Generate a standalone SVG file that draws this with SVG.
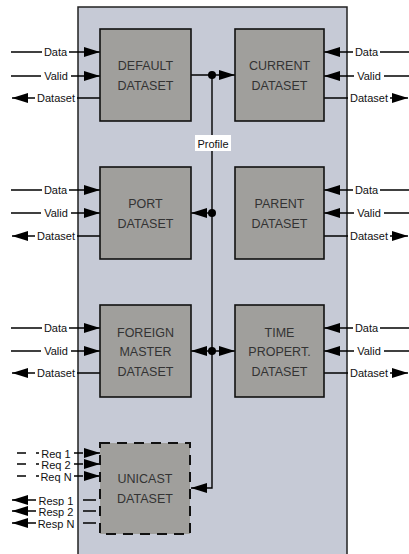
<svg xmlns="http://www.w3.org/2000/svg" width="409" height="554" viewBox="0 0 409 554">
  <defs>
    <marker id="ah" markerUnits="userSpaceOnUse" markerWidth="16" markerHeight="10" refX="16" refY="5" orient="auto">
      <path d="M0,0 L16,5 L0,10 z" fill="#000"/>
    </marker>
    <marker id="ahs" markerUnits="userSpaceOnUse" markerWidth="16" markerHeight="10" refX="16" refY="5" orient="auto-start-reverse">
      <path d="M0,0 L16,5 L0,10 z" fill="#000"/>
    </marker>
  </defs>
  <style>
    .panel { fill: #c6cad6; stroke: #222; stroke-width: 1.5; }
    .box { fill: #a09f9c; stroke: #111; stroke-width: 1.6; }
    .dashed { stroke-dasharray: 10 7; stroke-width: 2; }
    .name { font-family: "Liberation Sans", Arial, sans-serif; font-size: 12.5px; fill: #333; text-anchor: middle; }
    .sig { font-family: "Liberation Sans", Arial, sans-serif; font-size: 11px; fill: #111; text-anchor: middle; }
    .bg { fill: #fff; }
    .wire { stroke: #000; stroke-width: 1.4; fill: none; }
    .in { marker-end: url(#ah); }
    .dash { stroke-dasharray: 9 10; }
    .rdash { stroke-dasharray: 13 7; }
    .dot { fill: #000; }
  </style>

  <!-- enclosing block -->
  <rect class="panel" x="78" y="7" width="269" height="560"/>

  <!-- connectors -->
  <g id="connectors">
    <!-- shared profile bus -->
    <path class="wire" d="M212,75 V488 H191" marker-end="url(#ah)"/>
    <line class="wire in" x1="191" y1="75" x2="235" y2="75"/>
    <line class="wire in" x1="212" y1="213" x2="191" y2="213"/>
    <line class="wire" x1="191" y1="351" x2="235" y2="351" marker-start="url(#ahs)" marker-end="url(#ahs)"/>
    <circle class="dot" cx="212" cy="75" r="4"/>
    <circle class="dot" cx="212" cy="213" r="4"/>
    <circle class="dot" cx="212" cy="351" r="4"/>
    <rect class="bg" x="195" y="135" width="36" height="16"/>
    <text class="sig" x="213" y="148">Profile</text>

    <!-- left-hand interfaces -->
    <line class="wire in" x1="11" y1="52" x2="100" y2="52"/>
    <line class="wire in" x1="11" y1="76" x2="100" y2="76"/>
    <line class="wire in" x1="100" y1="98" x2="12" y2="98"/>
    <line class="wire in" x1="11" y1="190" x2="100" y2="190"/>
    <line class="wire in" x1="11" y1="213" x2="100" y2="213"/>
    <line class="wire in" x1="100" y1="236" x2="12" y2="236"/>
    <line class="wire in" x1="11" y1="328" x2="100" y2="328"/>
    <line class="wire in" x1="11" y1="351" x2="100" y2="351"/>
    <line class="wire in" x1="100" y1="373" x2="12" y2="373"/>

    <!-- right-hand interfaces -->
    <line class="wire in" x1="409" y1="52" x2="324" y2="52"/>
    <line class="wire in" x1="409" y1="76" x2="324" y2="76"/>
    <line class="wire in" x1="324" y1="98" x2="408" y2="98"/>
    <line class="wire in" x1="409" y1="190" x2="324" y2="190"/>
    <line class="wire in" x1="409" y1="213" x2="324" y2="213"/>
    <line class="wire in" x1="324" y1="236" x2="408" y2="236"/>
    <line class="wire in" x1="409" y1="328" x2="324" y2="328"/>
    <line class="wire in" x1="409" y1="351" x2="324" y2="351"/>
    <line class="wire in" x1="324" y1="373" x2="408" y2="373"/>

    <!-- unicast request / response lines -->
    <line class="wire in dash" x1="17" y1="453" x2="100" y2="453"/>
    <line class="wire in dash" x1="17" y1="464" x2="100" y2="464"/>
    <line class="wire in dash" x1="17" y1="476" x2="100" y2="476"/>
    <line class="wire in rdash" x1="96" y1="500" x2="12" y2="500"/>
    <line class="wire in rdash" x1="96" y1="511" x2="12" y2="511"/>
    <line class="wire in rdash" x1="96" y1="523" x2="12" y2="523"/>

    <!-- signal labels, left -->
    <g>
      <rect class="bg" x="42" y="46" width="27" height="11"/><text class="sig" x="55.5" y="56">Data</text>
      <rect class="bg" x="41" y="70" width="30" height="11"/><text class="sig" x="56" y="80">Valid</text>
      <rect class="bg" x="35" y="92" width="42" height="11"/><text class="sig" x="56" y="102">Dataset</text>
      <rect class="bg" x="42" y="184" width="27" height="11"/><text class="sig" x="55.5" y="194">Data</text>
      <rect class="bg" x="41" y="207" width="30" height="11"/><text class="sig" x="56" y="217">Valid</text>
      <rect class="bg" x="35" y="230" width="42" height="11"/><text class="sig" x="56" y="240">Dataset</text>
      <rect class="bg" x="42" y="322" width="27" height="11"/><text class="sig" x="55.5" y="332">Data</text>
      <rect class="bg" x="41" y="345" width="30" height="11"/><text class="sig" x="56" y="355">Valid</text>
      <rect class="bg" x="35" y="367" width="42" height="11"/><text class="sig" x="56" y="377">Dataset</text>
    </g>
    <!-- signal labels, right -->
    <g>
      <rect class="bg" x="353" y="46" width="27" height="11"/><text class="sig" x="366.5" y="56">Data</text>
      <rect class="bg" x="354" y="70" width="30" height="11"/><text class="sig" x="369" y="80">Valid</text>
      <rect class="bg" x="348" y="92" width="42" height="11"/><text class="sig" x="369" y="102">Dataset</text>
      <rect class="bg" x="353" y="184" width="27" height="11"/><text class="sig" x="366.5" y="194">Data</text>
      <rect class="bg" x="354" y="207" width="30" height="11"/><text class="sig" x="369" y="217">Valid</text>
      <rect class="bg" x="348" y="230" width="42" height="11"/><text class="sig" x="369" y="240">Dataset</text>
      <rect class="bg" x="353" y="322" width="27" height="11"/><text class="sig" x="366.5" y="332">Data</text>
      <rect class="bg" x="354" y="345" width="30" height="11"/><text class="sig" x="369" y="355">Valid</text>
      <rect class="bg" x="348" y="367" width="42" height="11"/><text class="sig" x="369" y="377">Dataset</text>
    </g>
    <!-- unicast labels -->
    <g>
      <rect class="bg" x="39" y="448" width="34" height="10"/><text class="sig" x="56" y="457.5">Req 1</text>
      <rect class="bg" x="39" y="459" width="34" height="10"/><text class="sig" x="56" y="468.5">Req 2</text>
      <rect class="bg" x="39" y="471" width="34" height="10"/><text class="sig" x="56" y="480.5">Req N</text>
      <rect class="bg" x="36" y="495" width="40" height="10"/><text class="sig" x="56" y="504.5">Resp 1</text>
      <rect class="bg" x="36" y="506" width="40" height="10"/><text class="sig" x="56" y="515.5">Resp 2</text>
      <rect class="bg" x="36" y="518" width="40" height="10"/><text class="sig" x="56" y="527.5">Resp N</text>
    </g>
  </g>

  <!-- dataset blocks -->
  <g id="default-dataset">
    <rect class="box" x="100" y="29" width="91" height="92"/>
    <text class="name" x="145.5" y="69.5">DEFAULT</text>
    <text class="name" x="145.5" y="89.5">DATASET</text>
  </g>
  <g id="current-dataset">
    <rect class="box" x="235" y="29" width="89" height="92"/>
    <text class="name" x="279.5" y="69.5">CURRENT</text>
    <text class="name" x="279.5" y="89.5">DATASET</text>
  </g>
  <g id="port-dataset">
    <rect class="box" x="100" y="167" width="91" height="92"/>
    <text class="name" x="145.5" y="207.5">PORT</text>
    <text class="name" x="145.5" y="227.5">DATASET</text>
  </g>
  <g id="parent-dataset">
    <rect class="box" x="235" y="167" width="89" height="92"/>
    <text class="name" x="279.5" y="207.5">PARENT</text>
    <text class="name" x="279.5" y="227.5">DATASET</text>
  </g>
  <g id="foreign-master-dataset">
    <rect class="box" x="100" y="305" width="91" height="92"/>
    <text class="name" x="145.5" y="337">FOREIGN</text>
    <text class="name" x="145.5" y="356">MASTER</text>
    <text class="name" x="145.5" y="376">DATASET</text>
  </g>
  <g id="time-properties-dataset">
    <rect class="box" x="235" y="305" width="89" height="92"/>
    <text class="name" x="279.5" y="337">TIME</text>
    <text class="name" x="279.5" y="356">PROPERT.</text>
    <text class="name" x="279.5" y="376">DATASET</text>
  </g>
  <g id="unicast-dataset">
    <rect class="box dashed" x="100" y="443" width="90" height="91"/>
    <text class="name" x="145" y="483">UNICAST</text>
    <text class="name" x="145" y="503">DATASET</text>
  </g>
</svg>
